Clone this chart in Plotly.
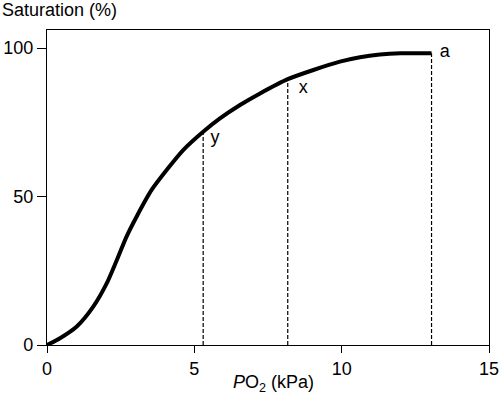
import plotly.graph_objects as go

# Oxygen dissociation curve
po2 = [0, 0.44, 1.01, 1.57, 2.03, 2.37, 2.70, 3.04, 3.55, 4.06, 4.63, 5.30, 5.87, 6.55, 7.23, 8.17, 9.04, 9.94, 10.62, 11.3, 12.0, 13.05]
sat = [0, 2.25, 6.2, 12.9, 20.8, 28.6, 36.5, 43.2, 52.2, 58.9, 65.7, 71.8, 76.3, 80.8, 84.7, 89.5, 92.6, 95.4, 96.9, 97.8, 98.2, 98.2]

# Marked points
mark_labels = ["y", "x", "a"]
mark_x = [5.3, 8.17, 13.05]
mark_y = [71.8, 89.5, 98.2]
label_x = [5.7, 8.7, 13.5]
label_y = [69.5, 86.5, 98.5]

x_ticks = [0, 5, 10, 15]
y_ticks = [0, 50, 100]

FONT = "Liberation Sans, Arial, Helvetica, sans-serif"

fig = go.Figure()

for mx, my in zip(mark_x, mark_y):
    fig.add_trace(go.Scatter(x=[mx, mx], y=[0, my], mode="lines",
                             line=dict(color="black", width=1.2, dash="4px,2px"),
                             showlegend=False, hoverinfo="skip"))

fig.add_trace(go.Scatter(x=po2, y=sat, mode="lines",
                         line=dict(color="black", width=4, shape="spline", smoothing=0.7),
                         showlegend=False))

fig.add_trace(go.Scatter(x=label_x, y=label_y, mode="text", text=mark_labels,
                         textposition="middle center",
                         textfont=dict(family=FONT, size=18, color="black"),
                         showlegend=False, hoverinfo="skip"))

fig.update_layout(
    width=500, height=394,
    margin=dict(l=47, r=11, t=30, b=49),
    paper_bgcolor="white", plot_bgcolor="white",
    font=dict(family=FONT, size=18, color="black"),
    showlegend=False,
)
fig.update_xaxes(range=[0, 15], tickvals=x_ticks, ticks="outside", ticklen=7,
                 tickcolor="black", showline=True, linecolor="black", linewidth=1.3,
                 mirror=True, showgrid=False, zeroline=False, automargin=False,
                 tickfont=dict(family=FONT, size=18, color="black"))
fig.update_yaxes(range=[0, 106.06], tickvals=y_ticks, ticks="outside", ticklen=9,
                 tickcolor="black", showline=True, linecolor="black", linewidth=1.3,
                 mirror=True, showgrid=False, zeroline=False, automargin=False,
                 tickfont=dict(family=FONT, size=18, color="black"))

fig.add_annotation(text="Saturation (%)", xref="paper", yref="paper", x=0, y=1,
                   xanchor="left", yanchor="middle", xshift=-47, yshift=20.5,
                   showarrow=False, font=dict(family=FONT, size=18, color="black"))
fig.add_annotation(text="<i>P</i>O<sub>2</sub> (kPa)", xref="x", yref="paper", x=7.67, y=0,
                   xanchor="center", yanchor="middle", yshift=-38,
                   showarrow=False, font=dict(family=FONT, size=18, color="black"))

fig.write_html("out.html", config={"displayModeBar": False},
               post_script="document.body.style.margin='0';document.body.style.padding='0';document.body.style.overflow='hidden';")
